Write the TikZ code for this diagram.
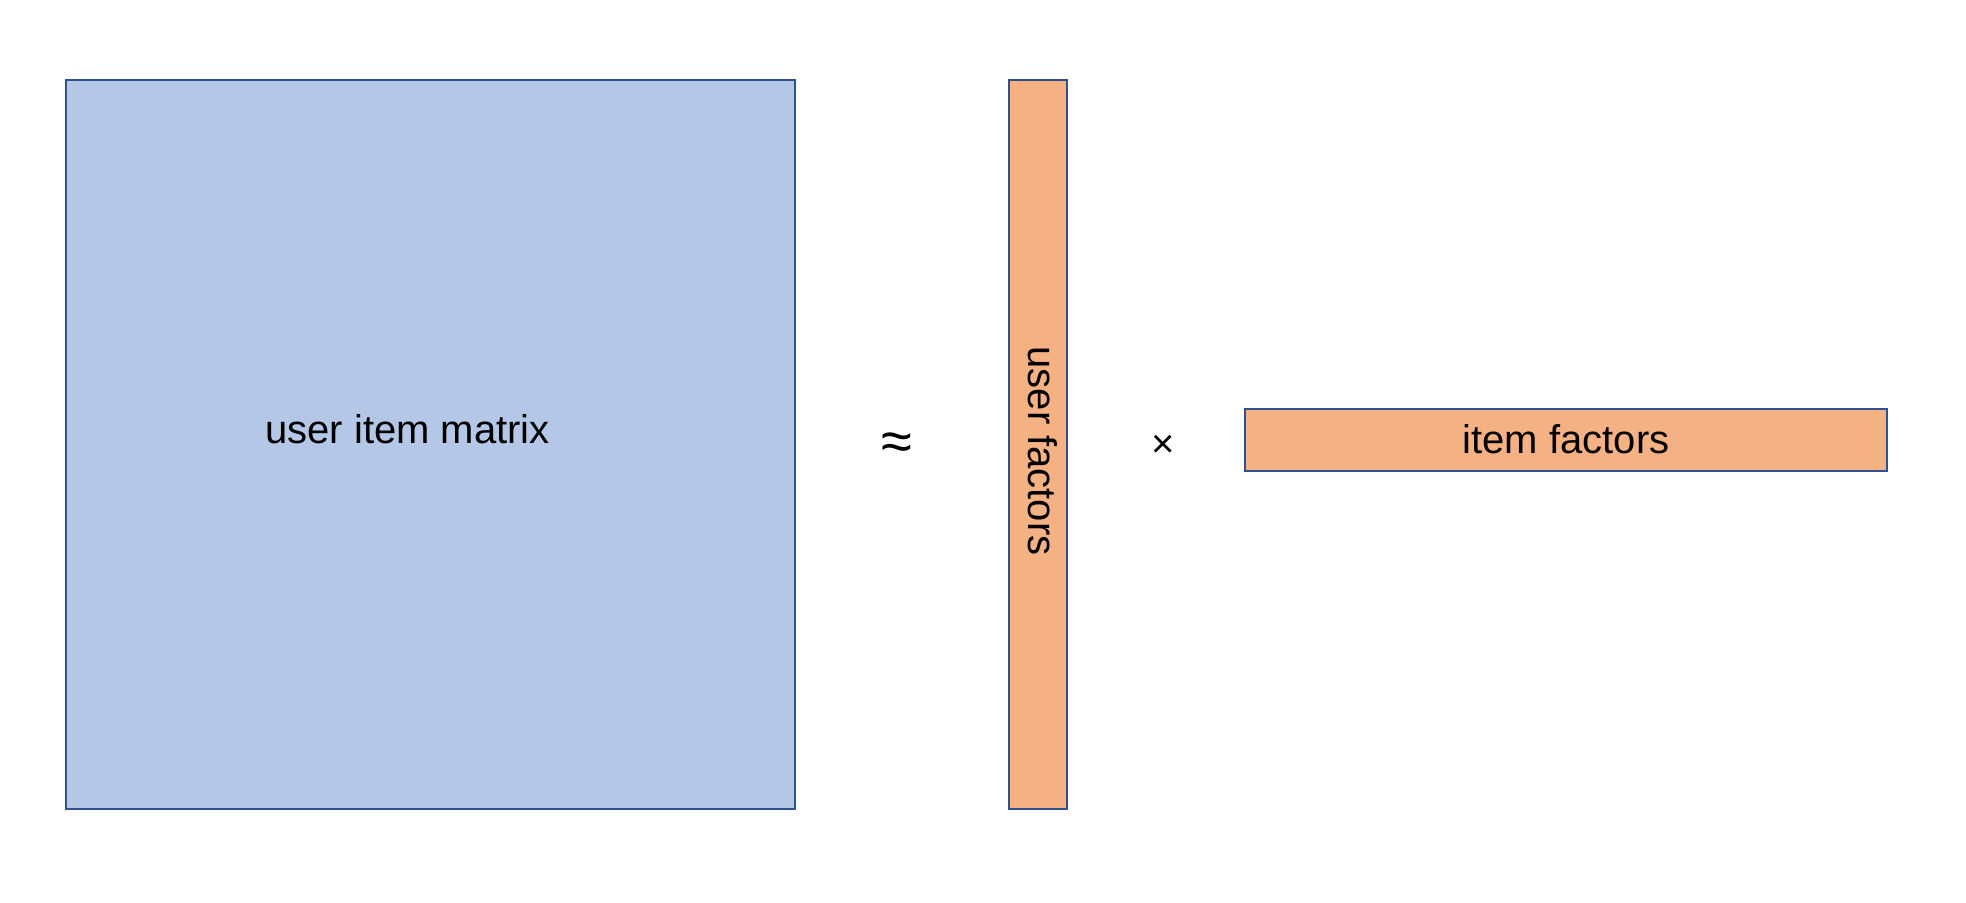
\documentclass[tikz,border=0pt]{standalone}
\usepackage{fontspec}
\setmainfont{Liberation Sans}
\definecolor{bluefill}{HTML}{B4C7E7}
\definecolor{orangefill}{HTML}{F4B183}
\definecolor{edgeblue}{HTML}{2F528F}
\begin{document}
\begin{tikzpicture}[x=0.5pt,y=-0.5pt,
  box/.style={draw=edgeblue,line width=1pt},
  lbl/.style={font=\fontsize{20pt}{24pt}\selectfont,inner sep=0pt,anchor=base}]
\useasboundingbox (0,0) rectangle (1966,902);
\draw[box,fill=bluefill] (66,80) rectangle (795,809);
\draw[box,fill=orangefill] (1009,80) rectangle (1067,809);
\draw[box,fill=orangefill] (1245,409) rectangle (1887,471);
\node[lbl] (m) at (407.5,443) {user item matrix};
\node[lbl,rotate=-90] (u) at (1028,451) {user factors};
\node[lbl] (i) at (1566,453) {item factors};
\node[lbl,anchor=center,font=\fontsize{28pt}{32pt}\selectfont] (approx) at (897,447) {≈};
\node[lbl,anchor=center] (times) at (1163,446) {×};
\end{tikzpicture}
\end{document}
